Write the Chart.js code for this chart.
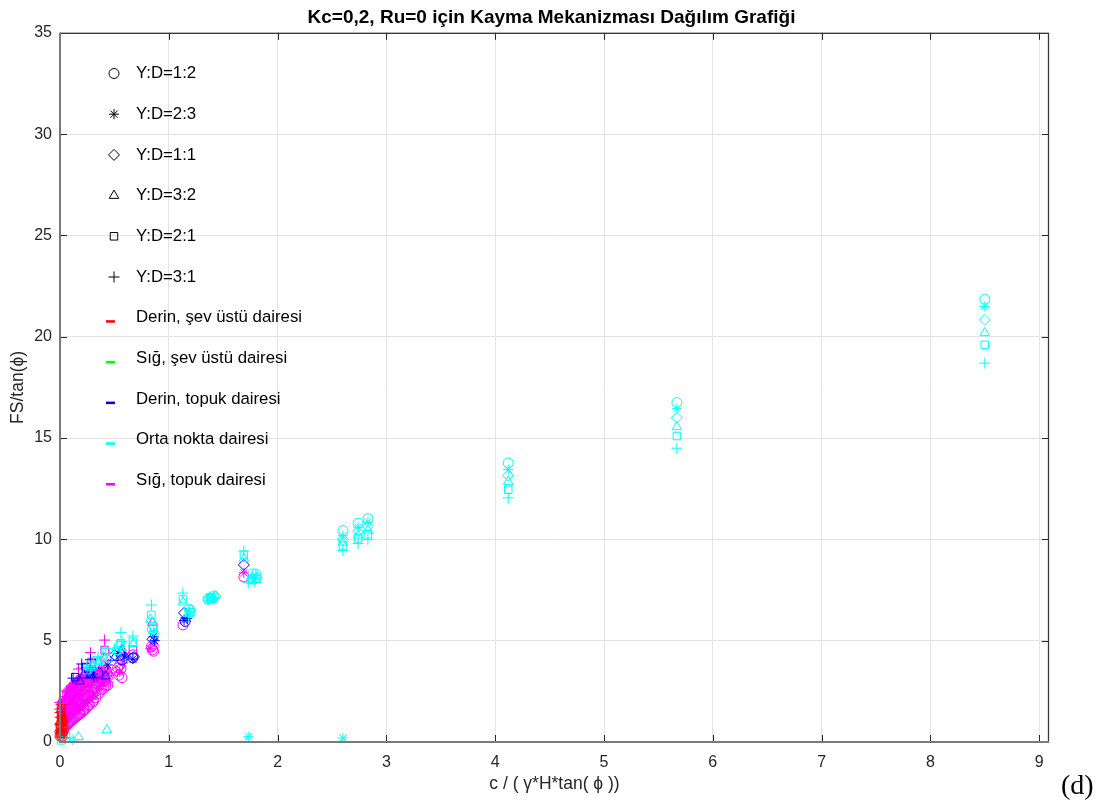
<!DOCTYPE html>
<html>
<head>
<meta charset="utf-8">
<script src="https://cdn.jsdelivr.net/npm/chart.js@4.4.0/dist/chart.umd.min.js"></script>
<style>
  body { margin: 0; background: #fff; }
  #wrap { position: relative; width: 1103px; height: 807px; }
  #tag { position: absolute; left: 1061px; top: 771px; font: 28px "Liberation Serif", "Times New Roman", serif; line-height: 1; color: #000; }
</style>
</head>
<body>
<div id="wrap">
  <canvas id="c" width="1103" height="807"></canvas>
  <div id="tag">(d)</div>
</div>
<script>
// labels
const ratioLabels = ['Y:D=1:2', 'Y:D=2:3', 'Y:D=1:1', 'Y:D=3:2', 'Y:D=2:1', 'Y:D=3:1'];
const mechanismLabels = ['Derin, şev üstü dairesi', 'Sığ, şev üstü dairesi', 'Derin, topuk dairesi', 'Orta nokta dairesi', 'Sığ, topuk dairesi'];
const xTickValues = [0, 1, 2, 3, 4, 5, 6, 7, 8, 9];
const yTickValues = [0, 5, 10, 15, 20, 25, 30, 35];

// points: [c/(γ*H*tan φ), FS/tan φ, ratio index]
const derinSevUstu = [
  [0.00,0.30,0],[0.01,0.40,1],[0.00,0.50,2],[0.02,0.45,0],[0.01,0.62,3],[0.00,0.70,4],
  [0.02,0.66,1],[0.00,0.86,5],[0.01,0.80,0],[0.02,0.92,2],[0.00,1.02,3],[0.01,1.12,4],
  [0.00,1.22,5],[0.02,1.06,1],[0.01,1.32,4],[0.00,1.46,5],[0.02,1.40,3],[0.00,1.62,5],
  [0.01,1.84,5],[0.03,0.55,0],[0.03,0.76,2],[0.02,0.28,0],[0.00,0.40,4],[0.01,0.96,3],
  [0.03,1.00,1],[0.02,1.20,2],[0.01,1.55,4],[0.00,0.60,1]
];
const sigSevUstu = [];
const derinTopuk = [
  [1.69,8.74,2],[1.14,6.37,2],[1.14,6.00,1],[1.17,6.10,1],[1.15,5.95,0],
  [0.85,5.07,2],[0.87,5.00,1],[0.86,5.20,1],[0.67,4.15,0],[0.67,4.10,1],[0.68,4.20,2],
  [0.57,4.30,2],[0.56,4.46,3],[0.57,4.05,0],[0.59,4.20,1],[0.50,4.15,3],[0.44,3.80,1],
  [0.42,3.25,3],[0.28,4.06,5],[0.28,3.50,4],[0.28,3.30,3],[0.27,3.45,2],[0.20,3.85,5],
  [0.18,3.00,3],[0.14,3.20,4],[0.22,3.30,3],[0.50,4.30,2],[0.31,3.20,1],[0.35,3.40,0],
  [0.12,3.15,5],[0.24,3.70,4]
];
const ortaNokta = [
  [8.50,21.86,0],[8.50,21.50,1],[8.50,20.83,2],[8.50,20.19,3],[8.50,19.60,4],[8.50,18.70,5],
  [5.67,16.75,0],[5.67,16.45,1],[5.67,16.00,2],[5.67,15.55,3],[5.67,15.10,4],[5.67,14.50,5],
  [4.12,13.77,0],[4.12,13.45,1],[4.12,13.15,2],[4.12,12.85,3],[4.12,12.45,4],[4.12,12.05,5],
  [2.60,10.43,0],[2.60,10.18,1],[2.60,10.00,2],[2.60,9.85,3],[2.60,9.70,4],[2.60,9.45,5],
  [2.74,10.80,0],[2.74,10.60,1],[2.74,10.40,2],[2.74,10.20,3],[2.74,10.05,4],[2.74,9.80,5],
  [2.83,11.02,0],[2.83,10.85,1],[2.83,10.65,2],[2.83,10.45,3],[2.83,10.25,4],[2.83,10.00,5],
  [1.69,9.43,5],[1.69,9.23,4],[1.69,9.05,3],
  [1.77,8.30,0],[1.77,8.15,1],[1.76,8.05,2],[1.77,7.95,3],[1.76,8.00,4],[1.73,7.85,5],
  [1.80,8.28,0],[1.80,8.20,1],[1.81,8.10,2],[1.80,8.00,3],[1.81,8.05,4],[1.79,7.90,5],
  [1.36,7.05,0],[1.36,7.00,1],[1.37,7.10,2],[1.38,7.00,3],[1.39,7.15,4],[1.40,7.10,5],
  [1.41,7.20,0],[1.42,7.15,1],[1.43,7.20,2],[1.40,7.05,3],[1.38,7.12,4],[1.42,7.08,5],
  [1.13,7.35,5],[1.13,7.05,4],[1.13,6.90,3],[1.19,6.55,0],[1.19,6.45,1],[1.20,6.50,2],
  [1.18,6.35,3],[1.20,6.40,4],[1.18,6.20,5],
  [0.84,6.76,5],[0.84,6.27,4],[0.86,5.69,4],[0.85,5.55,0],[0.86,5.45,1],[0.87,5.35,2],[0.83,6.05,3],
  [0.67,5.23,5],[0.67,4.95,4],[0.67,4.85,3],
  [0.56,5.40,5],[0.57,4.95,5],[0.56,4.88,4],[0.57,4.64,3],[0.55,4.80,4],[0.50,4.60,5],[0.52,4.50,4],
  [0.42,4.62,5],[0.42,4.46,4],[0.44,4.10,3],[0.40,4.20,3],
  [0.35,4.20,5],[0.34,4.05,4],[0.36,3.95,3],[0.37,4.00,4],
  [0.28,3.80,4],[0.28,3.65,3],[0.30,3.75,3],[0.25,3.55,4],
  [0.01,0.08,4],[0.05,0.18,5],[0.09,0.22,5],[0.12,0.10,5],[0.17,0.25,3],[0.43,0.59,3],
  [1.73,0.26,1],[2.60,0.20,1]
];
const sigTopuk = [
  [1.69,8.35,1],[1.69,8.15,0],[1.13,5.78,0],[0.85,5.90,3],[0.84,4.70,0],[0.85,4.55,0],
  [0.83,4.60,1],[0.86,4.75,2],[0.86,4.48,0],[0.67,4.54,4],[0.67,4.30,0],
  [0.57,4.54,3],[0.55,3.80,0],[0.56,3.60,0],[0.54,3.30,0],[0.55,3.45,1],[0.57,3.18,0],
  [0.53,3.65,0],[0.58,3.90,1],[0.52,3.50,2],
  [0.41,5.03,5],[0.41,4.54,4],[0.41,4.13,3],[0.42,3.55,0],[0.43,3.30,0],[0.41,3.00,0],
  [0.42,2.78,0],[0.40,3.70,2],[0.44,3.40,1],[0.39,3.10,1],
  [0.28,4.41,5],[0.20,3.65,5],[0.17,3.60,5],[0.29,3.95,4],[0.30,3.72,3],
  [0.01,1.60,3],[0.01,1.78,4],[0.02,1.90,4],[0.00,1.95,5],
  [0.06,2.35,4],[0.08,2.45,3],[0.11,2.60,4],[0.13,2.70,3],
  [0.03,0.62,0],[0.03,0.88,1],[0.03,1.10,2],[0.03,1.40,3],[0.03,1.66,4],[0.02,1.98,5],
  [0.04,0.70,0],[0.04,0.96,1],[0.04,1.22,2],[0.04,1.48,3],[0.04,1.78,4],[0.04,2.12,5],
  [0.05,0.76,0],[0.05,1.04,1],[0.05,1.28,2],[0.05,1.58,3],[0.05,1.90,4],[0.05,2.25,5],
  [0.06,0.80,0],[0.06,1.10,1],[0.06,1.38,2],[0.06,1.65,3],[0.06,2.00,4],[0.06,2.52,5],
  [0.07,0.88,0],[0.07,1.16,1],[0.07,1.45,2],[0.07,1.72,3],[0.07,2.05,4],[0.07,2.45,5],
  [0.08,0.93,0],[0.08,1.24,1],[0.08,1.50,2],[0.08,1.80,3],[0.08,2.14,4],[0.08,2.60,5],
  [0.09,0.98,0],[0.09,1.28,1],[0.09,1.57,2],[0.09,1.86,3],[0.09,2.20,4],[0.09,2.66,5],
  [0.10,1.02,0],[0.10,1.32,1],[0.10,1.60,2],[0.10,1.92,3],[0.10,2.26,4],[0.10,2.72,5],
  [0.11,1.06,0],[0.11,1.36,1],[0.11,1.66,2],[0.11,1.98,3],[0.11,2.32,4],[0.11,2.78,5],
  [0.12,1.12,0],[0.12,1.42,1],[0.12,1.72,2],[0.12,2.04,3],[0.12,2.38,4],[0.12,2.85,5],
  [0.13,1.16,0],[0.13,1.46,1],[0.13,1.78,2],[0.13,2.10,3],[0.13,2.44,4],[0.13,2.90,5],
  [0.14,1.20,0],[0.14,1.52,1],[0.14,1.82,2],[0.14,2.14,3],[0.14,2.50,4],[0.14,2.95,5],
  [0.15,1.24,0],[0.15,1.56,1],[0.15,1.88,2],[0.15,2.20,3],[0.15,2.56,4],[0.15,3.02,5],
  [0.16,1.30,0],[0.16,1.62,1],[0.16,1.94,2],[0.16,2.26,3],[0.16,2.62,4],[0.16,3.05,5],
  [0.17,1.36,0],[0.17,1.70,1],[0.17,2.00,2],[0.17,2.30,3],[0.17,2.66,4],[0.17,3.08,5],
  [0.18,1.38,0],[0.18,1.70,1],[0.18,2.02,2],[0.18,2.34,3],[0.18,2.70,4],[0.18,3.10,5],
  [0.19,1.42,0],[0.19,1.76,1],[0.19,2.08,2],[0.19,2.40,3],[0.19,2.76,4],[0.19,3.16,5],
  [0.21,1.50,0],[0.21,1.84,1],[0.21,2.16,2],[0.21,2.48,3],[0.21,2.84,4],[0.21,3.22,5],
  [0.22,1.58,0],[0.22,1.90,1],[0.22,2.20,2],[0.22,2.52,3],[0.22,2.88,4],[0.22,3.30,5],
  [0.23,1.60,0],[0.23,1.92,1],[0.23,2.24,2],[0.23,2.56,3],[0.23,2.90,4],[0.23,3.26,5],
  [0.25,1.72,0],[0.25,2.02,1],[0.25,2.32,2],[0.25,2.62,3],[0.25,2.96,4],[0.25,3.30,5],
  [0.26,1.80,0],[0.26,2.08,1],[0.26,2.36,2],[0.26,2.66,3],[0.26,2.98,4],[0.26,3.38,5],
  [0.27,1.84,0],[0.27,2.12,1],[0.27,2.40,2],[0.27,2.70,3],[0.27,3.02,4],[0.27,3.34,5],
  [0.30,1.96,0],[0.30,2.24,1],[0.30,2.52,2],[0.30,2.80,3],[0.30,3.10,4],[0.30,3.40,5],
  [0.31,2.05,0],[0.31,2.30,1],[0.31,2.58,2],[0.31,2.85,3],[0.31,3.14,4],[0.32,3.50,5],
  [0.33,2.18,0],[0.33,2.42,1],[0.33,2.68,2],[0.33,2.94,3],[0.33,3.20,4],[0.33,3.46,5],
  [0.36,2.40,0],[0.36,2.62,1],[0.36,2.86,2],[0.36,3.08,3],[0.36,3.32,4],[0.36,3.56,5],
  [0.38,2.58,0],[0.38,2.78,1],[0.38,3.00,2],[0.38,3.22,3],[0.38,3.45,4],[0.38,3.66,5],
  [0.40,2.65,0],[0.40,2.86,1],[0.40,3.08,2],[0.40,3.30,3],[0.40,3.52,4],
  [0.44,2.80,0],[0.45,2.95,1],[0.44,3.15,2],[0.45,3.40,3]
];

const mechanismPoints = [derinSevUstu, sigSevUstu, derinTopuk, ortaNokta, sigTopuk];
const mechanismColors = ['#ff0000', '#00ff00', '#0000ff', '#00ffff', '#ff00ff'];
const mechanismOrder = [0, 4, 2, 1, 3];
const ratioStyles = ['circle', 'star', 'rectRot', 'triangle', 'rect', 'cross'];
const ratioRadius = [5, 5, 5.5, 5.5, 5.3, 5.5];

const FONT = '"Liberation Sans", Arial, Helvetica, sans-serif';
const TEXT = '#262626';

const datasets = [];
mechanismPoints.forEach((pts, m) => {
  ratioLabels.forEach((lab, r) => {
    const data = pts.filter(p => p[2] === r).map(p => ({x: p[0], y: p[1]}));
    if (!data.length) return;
    datasets.push({
      label: mechanismLabels[m] + ' / ' + lab,
      data: data,
      order: mechanismOrder[m],
      pointStyle: ratioStyles[r],
      pointRadius: ratioRadius[r],
      pointBorderWidth: 1,
      borderColor: mechanismColors[m],
      backgroundColor: 'rgba(0,0,0,0)',
      pointBackgroundColor: 'rgba(0,0,0,0)',
      showLine: false,
      clip: false
    });
  });
});

// axes box with inward ticks like the original
const boxPlugin = {
  id: 'box',
  afterDraw(chart) {
    const {ctx, chartArea: a, scales: {x, y}} = chart;
    ctx.save();
    ctx.strokeStyle = TEXT;
    ctx.lineWidth = 1;
    ctx.beginPath();
    xTickValues.forEach(v => {
      const px = Math.round(x.getPixelForValue(v)) + 0.5;
      ctx.moveTo(px, a.bottom); ctx.lineTo(px, a.bottom - 7);
      ctx.moveTo(px, a.top); ctx.lineTo(px, a.top + 7);
    });
    yTickValues.forEach(v => {
      const py = Math.round(y.getPixelForValue(v)) + 0.5;
      ctx.moveTo(a.left, py); ctx.lineTo(a.left + 7, py);
      ctx.moveTo(a.right, py); ctx.lineTo(a.right - 7, py);
    });
    ctx.stroke();
    ctx.strokeStyle = '#3a3a3a';
    ctx.lineWidth = 1.3;
    ctx.beginPath();
    ctx.moveTo(a.left, a.top + 0.5); ctx.lineTo(a.right, a.top + 0.5);
    ctx.moveTo(a.right - 0.5, a.top); ctx.lineTo(a.right - 0.5, a.bottom);
    ctx.stroke();
    ctx.strokeStyle = '#7a7a7a';
    ctx.lineWidth = 2;
    ctx.beginPath();
    ctx.moveTo(a.left, a.top); ctx.lineTo(a.left, a.bottom);
    ctx.lineTo(a.right, a.bottom);
    ctx.stroke();
    ctx.restore();
  }
};

// legend drawn inside the axes, MATLAB style
const legendPlugin = {
  id: 'matlabLegend',
  afterDraw(chart) {
    const ctx = chart.ctx;
    const labels = ratioLabels.concat(mechanismLabels);
    ctx.save();
    ctx.font = '16.8px ' + FONT;
    ctx.textBaseline = 'middle';
    labels.forEach((lab, i) => {
      const yy = 73.5 + i * 40.7;
      if (i < ratioLabels.length) {
        ctx.strokeStyle = '#000';
        ctx.fillStyle = 'rgba(0,0,0,0)';
        Chart.helpers.drawPoint(ctx, {pointStyle: ratioStyles[i], radius: ratioRadius[i], borderWidth: 1, rotation: 0}, 114, yy);
      } else {
        ctx.fillStyle = mechanismColors[i - ratioLabels.length];
        ctx.fillRect(106, yy + 2.5, 9, 2.5);
      }
      ctx.fillStyle = '#000';
      ctx.fillText(lab, 136, yy);
    });
    ctx.restore();
  }
};

new Chart(document.getElementById('c'), {
  type: 'scatter',
  data: {datasets: datasets},
  options: {
    responsive: false,
    animation: false,
    devicePixelRatio: 1,
    layout: {padding: 0},
    plugins: {
      legend: {display: false},
      tooltip: {enabled: false},
      title: {
        display: true,
        text: 'Kc=0,2, Ru=0 için Kayma Mekanizması Dağılım Grafiği',
        color: '#000',
        font: {family: FONT, size: 19, weight: 'bold'},
        padding: {top: 6, bottom: 4}
      }
    },
    scales: {
      x: {
        type: 'linear',
        min: 0,
        max: 9.09,
        afterBuildTicks: s => { s.ticks = xTickValues.map(v => ({value: v})); },
        afterFit: s => { s.height = 65; },
        grid: {color: '#e3e3e3', drawTicks: false},
        border: {display: false},
        ticks: {color: TEXT, font: {family: FONT, size: 16}, padding: 11, maxRotation: 0},
        title: {display: true, text: 'c / ( γ*H*tan( ϕ ))', color: TEXT, font: {family: FONT, size: 17.5}, padding: {top: 0, bottom: 12}}
      },
      y: {
        type: 'linear',
        min: 0,
        max: 35,
        afterBuildTicks: s => { s.ticks = yTickValues.map(v => ({value: v})); },
        afterFit: s => { s.width = 60; },
        grid: {color: '#e3e3e3', drawTicks: false},
        border: {display: false},
        ticks: {color: TEXT, font: {family: FONT, size: 16}, padding: 8},
        title: {display: true, text: 'FS/tan(ϕ)', color: TEXT, font: {family: FONT, size: 17.5}, padding: {top: 8, bottom: 0}}
      },
      // empty right-hand band so the plot ends where the original does
      yRight: {
        position: 'right',
        display: true,
        grid: {display: false, drawTicks: false},
        border: {display: false},
        ticks: {display: false},
        afterFit: s => { s.width = 54; }
      }
    }
  },
  plugins: [boxPlugin, legendPlugin]
});
</script>
</body>
</html>
